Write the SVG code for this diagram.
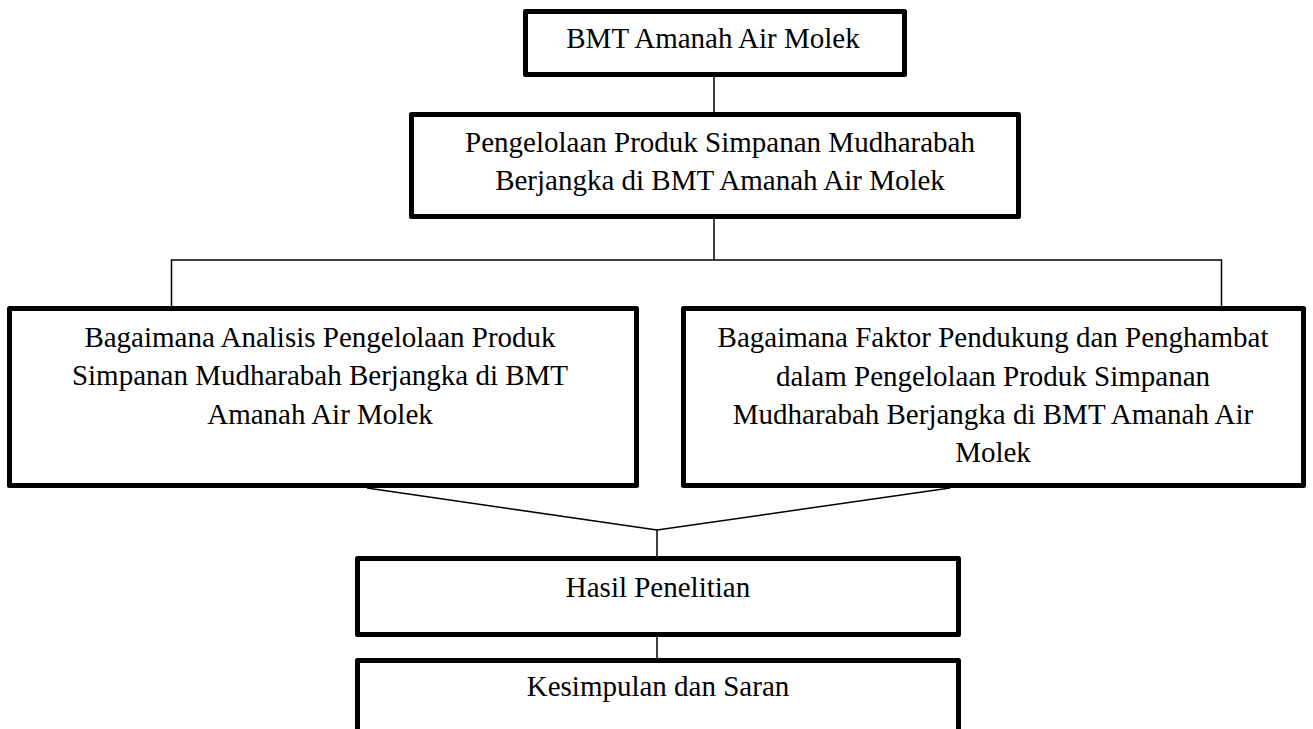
<svg xmlns="http://www.w3.org/2000/svg" width="1313" height="729" viewBox="0 0 1313 729">
<style>
.box{fill:#fff;stroke:#000;stroke-width:5;stroke-linejoin:round}
.con{fill:none;stroke:#000;stroke-width:1.5}
text{font-family:"Liberation Serif","Times New Roman",serif;font-size:29px;fill:#000;text-anchor:middle}
</style>
<rect width="1313" height="729" fill="#fff"/>
<g id="connectors">
<line class="con" x1="714" y1="77" x2="714" y2="112"/>
<line class="con" x1="714" y1="219" x2="714" y2="260"/>
<polyline class="con" points="171.5,307 171.5,260 1221.5,260 1221.5,307"/>
<polyline class="con" points="367,488 657,530 950,488"/>
<line class="con" x1="657" y1="530" x2="657" y2="557"/>
<line class="con" x1="657" y1="637" x2="657" y2="658"/>
</g>
<g id="node-bmt">
<rect class="box" x="525.5" y="11.5" width="379" height="63"/>
<text x="713" y="48">BMT Amanah Air Molek</text>
</g>
<g id="node-pengelolaan">
<rect class="box" x="411.5" y="114.5" width="607" height="102"/>
<text x="720" y="152">Pengelolaan Produk Simpanan Mudharabah</text>
<text x="720" y="190">Berjangka di BMT Amanah Air Molek</text>
</g>
<g id="node-analisis">
<rect class="box" x="9.5" y="308.5" width="627" height="177"/>
<text x="320" y="347">Bagaimana Analisis Pengelolaan Produk</text>
<text x="320" y="385">Simpanan Mudharabah Berjangka di BMT</text>
<text x="320" y="424">Amanah Air Molek</text>
</g>
<g id="node-faktor">
<rect class="box" x="683.5" y="308.5" width="620" height="177"/>
<text x="993" y="347">Bagaimana Faktor Pendukung dan Penghambat</text>
<text x="993" y="386">dalam Pengelolaan Produk Simpanan</text>
<text x="993" y="424">Mudharabah Berjangka di BMT Amanah Air</text>
<text x="993" y="462">Molek</text>
</g>
<g id="node-hasil">
<rect class="box" x="357.5" y="558.5" width="601" height="76"/>
<text x="658" y="597">Hasil Penelitian</text>
</g>
<g id="node-kesimpulan">
<rect class="box" x="357.5" y="660.5" width="601" height="100"/>
<text x="658" y="696">Kesimpulan dan Saran</text>
</g>
</svg>
